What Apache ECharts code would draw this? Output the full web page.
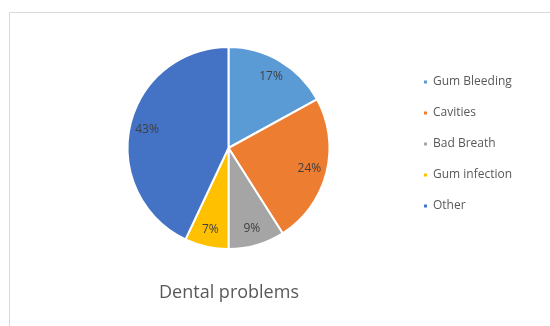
<!DOCTYPE html>
<html>
<head>
<meta charset="utf-8">
<style>
  html, body { margin: 0; padding: 0; background: #ffffff; }
  #chart { width: 550px; height: 326px; }
</style>
<script src="https://cdn.jsdelivr.net/npm/echarts@6/dist/echarts.min.js"></script>
</head>
<body>
<div id="chart"></div>
<script>
// Survey of dental problems, as shares of respondents (%)
const categories = ['Gum Bleeding', 'Cavities', 'Bad Breath', 'Gum infection', 'Other'];
const shares = [17, 24, 9, 7, 43];
const colors = ['#5B9BD5', '#ED7D31', '#A5A5A5', '#FFC000', '#4472C4'];
const chartTitle = 'Dental problems';

const FONT = '"Open Sans", "Noto Sans", sans-serif';
const slices = categories.map((name, i) => ({ name, value: shares[i] }));
const center = [228.5, 148];
const outer = 101;

const chart = echarts.init(document.getElementById('chart'), null, { renderer: 'canvas' });
chart.setOption({
  animation: false,
  color: colors,
  textStyle: { fontFamily: FONT },
  title: {
    text: chartTitle,
    left: 229,
    top: 284,
    padding: 0,
    textAlign: 'center',
    textStyle: { fontFamily: FONT, fontSize: 18, fontWeight: 'normal', color: '#595959' }
  },
  graphic: [{
    // chart-area frame
    type: 'rect',
    silent: true,
    z: -1,
    shape: { x: 9.5, y: 12.5, width: 600, height: 400 },
    style: { fill: 'none', stroke: '#d9d9d9', lineWidth: 1 }
  }],
  legend: {
    orient: 'vertical',
    left: 422,
    top: 76,
    padding: 0,
    itemWidth: 5,
    itemHeight: 5,
    itemGap: 19,
    icon: 'rect',
    data: categories,
    textStyle: { fontFamily: FONT, fontSize: 12, lineHeight: 12, color: '#595959' }
  },
  series: [
    {
      // the slices themselves
      type: 'pie',
      center: center,
      radius: [0, outer],
      startAngle: 90,
      clockwise: true,
      data: slices,
      itemStyle: { borderColor: '#ffffff', borderWidth: 2 },
      label: { show: false },
      labelLine: { show: false },
      emphasis: { disabled: true }
    },
    {
      // ring carrying the percentage labels near the rim
      type: 'pie',
      center: center,
      radius: [60, outer],
      startAngle: 90,
      clockwise: true,
      silent: true,
      data: slices,
      itemStyle: { color: 'rgba(0,0,0,0)' },
      label: {
        show: true,
        position: 'inside',
        formatter: p => p.value + '%',
        fontFamily: FONT,
        fontSize: 12,
        color: '#404040'
      },
      labelLine: { show: false },
      emphasis: { disabled: true }
    }
  ]
});
</script>
</body>
</html>
